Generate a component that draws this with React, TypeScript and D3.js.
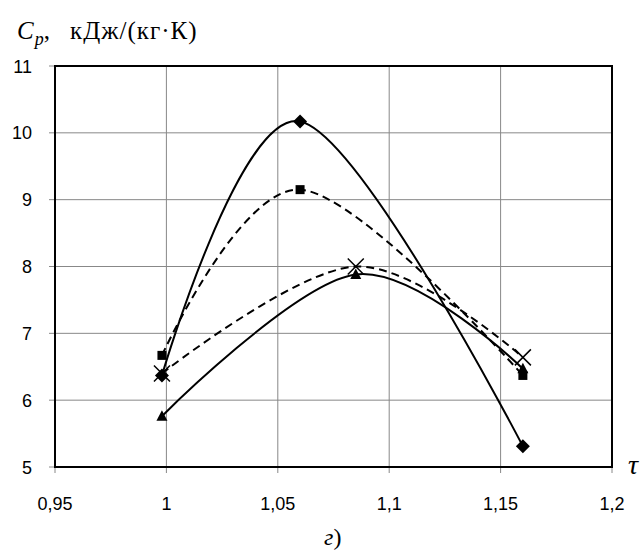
import React from "react";
import * as d3 from "d3";

const xTicks = [0.95, 1, 1.05, 1.1, 1.15, 1.2];
const xTickLabels = ["0,95", "1", "1,05", "1,1", "1,15", "1,2"];
const yTicks = [5, 6, 7, 8, 9, 10, 11];

const diamondX = [0.998, 1.06, 1.16];
const diamondY = [6.37, 10.17, 5.31];
const squareX = [0.998, 1.06, 1.16];
const squareY = [6.67, 9.15, 6.37];
const triangleX = [0.998, 1.085, 1.16];
const triangleY = [5.76, 7.88, 6.47];
const crossX = [0.998, 1.085, 1.16];
const crossY = [6.4, 8.0, 6.64];

const W = 643, H = 560;
const L = 55, R = 612, T = 66, B = 467;

export default function App() {
  const x = d3.scaleLinear().domain([0.95, 1.2]).range([L, R]);
  const y = d3.scaleLinear().domain([5, 11]).range([B, T]);
  const line = d3
    .line<[number, number]>()
    .x((d) => x(d[0]))
    .y((d) => y(d[1]))
    .curve(d3.curveCardinal.tension(0));
  const zip = (a: number[], b: number[]) => a.map((v, i) => [v, b[i]] as [number, number]);
  const series = [
    { xs: diamondX, ys: diamondY, dash: "", marker: "diamond" },
    { xs: squareX, ys: squareY, dash: "8,5", marker: "square" },
    { xs: triangleX, ys: triangleY, dash: "", marker: "triangle" },
    { xs: crossX, ys: crossY, dash: "8,5", marker: "cross" },
  ];
  const marker = (m: string, cx: number, cy: number, k: string) => {
    if (m === "diamond")
      return <path key={k} d={`M${cx},${cy - 7}L${cx + 7},${cy}L${cx},${cy + 7}L${cx - 7},${cy}Z`} fill="#000" />;
    if (m === "square") return <rect key={k} x={cx - 4.5} y={cy - 4.5} width={9} height={9} fill="#000" />;
    if (m === "triangle")
      return <path key={k} d={`M${cx},${cy - 6}L${cx + 5.5},${cy + 4.5}L${cx - 5.5},${cy + 4.5}Z`} fill="#000" />;
    return (
      <path key={k} d={`M${cx - 8},${cy - 8}L${cx + 8},${cy + 8}M${cx - 8},${cy + 8}L${cx + 8},${cy - 8}`} stroke="#000" strokeWidth={1.5} />
    );
  };
  const font = "'Liberation Sans', Arial, sans-serif";
  const serif = "'Liberation Serif', 'Times New Roman', serif";
  return (
    <svg width={W} height={H} style={{ position: "absolute", left: 0, top: 0, background: "#fff" }}>
      <rect x={0} y={0} width={W} height={H} fill="#fff" />
      {xTicks.slice(1, -1).map((t) => (
        <line key={"gx" + t} x1={x(t)} x2={x(t)} y1={T} y2={B} stroke="#888" strokeWidth={1} />
      ))}
      {yTicks.slice(1, -1).map((t) => (
        <line key={"gy" + t} x1={L} x2={R} y1={y(t)} y2={y(t)} stroke="#888" strokeWidth={1} />
      ))}
      {yTicks.map((t) => (
        <g key={"yt" + t}>
          <line x1={L - 6} x2={L} y1={y(t)} y2={y(t)} stroke="#888" />
          <text x={32} y={y(t) + 6.5} textAnchor="end" fontFamily={font} fontSize={18}>{t}</text>
        </g>
      ))}
      {xTicks.map((t, i) => (
        <g key={"xt" + t}>
          <line x1={x(t)} x2={x(t)} y1={B} y2={B + 6} stroke="#888" />
          <text x={x(t)} y={510} textAnchor="middle" fontFamily={font} fontSize={18}>{xTickLabels[i]}</text>
        </g>
      ))}
      <rect x={L} y={T} width={R - L} height={B - T} fill="none" stroke="#000" strokeWidth={2} />
      {series.map((s, i) => (
        <path key={"l" + i} d={line(zip(s.xs, s.ys)) || ""} fill="none" stroke="#000" strokeWidth={2} strokeDasharray={s.dash} />
      ))}
      {series.map((s, i) => s.xs.map((v, j) => marker(s.marker, x(v), y(s.ys[j]), `m${i}-${j}`)))}
      <text x={17} y={39} fontFamily={serif} fontSize={25}>
        <tspan fontStyle="italic">C</tspan>
        <tspan fontStyle="italic" fontSize={18} dy={6} dx={1}>p</tspan>
        <tspan dy={-6}>,</tspan>
        <tspan x={70} letterSpacing={1}>кДж/(кг·К)</tspan>
      </text>
      <text x={628} y={474} fontFamily={serif} fontSize={28} fontStyle="italic">τ</text>
      <text x={324} y={545} fontFamily={serif} fontSize={24}>
        <tspan fontStyle="italic">г</tspan>)
      </text>
    </svg>
  );
}
